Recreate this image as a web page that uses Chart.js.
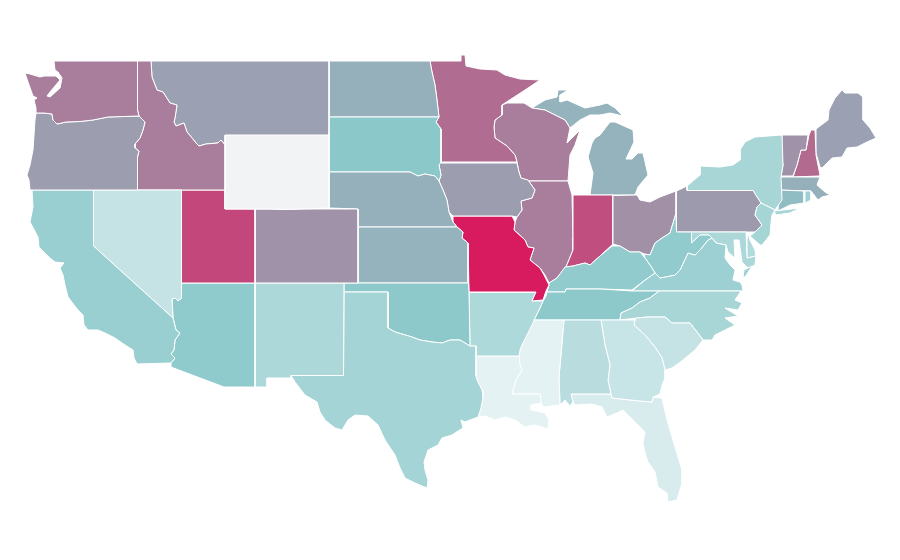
<!DOCTYPE html>
<html>
<head>
<meta charset="utf-8">
<title>US states</title>
<script src="https://cdn.jsdelivr.net/npm/chart.js@4/dist/chart.umd.min.js"></script>
<style>
  html, body { margin: 0; background: #ffffff; }
  #wrap { width: 900px; height: 560px; }
</style>
</head>
<body>
<div id="wrap"><canvas id="map"></canvas></div>
<script>
// state values, read from the shade of each state
const stateNames = ['Washington','Oregon','California','Nevada','Idaho','Montana','Wyoming','Utah','Colorado','Arizona','New Mexico','Texas','Oklahoma','Kansas','Nebraska','South Dakota','North Dakota','Minnesota','Iowa','Missouri','Arkansas','Louisiana','Mississippi','Alabama','Georgia','South Carolina','North Carolina','Tennessee','Kentucky','West Virginia','Virginia','Maryland','Delaware','New Jersey','Pennsylvania','New York','Connecticut','Rhode Island','Massachusetts','Vermont','New Hampshire','Maine','Ohio','Indiana','Illinois','Wisconsin','Michigan','Florida'];
const stateValues = [71,62,43,22,71,61,0,87,65,48,34,38,49,56,57,50,57,76,62,100,33,7,7,28,21,22,36,49,47,47,42,34,32,37,63,36,53,42,57,65,77,61,66,85,71,71,56,13];

// outlines in map units (flat x,y lists)
const WA = [54,61,137.5,61,137.5,110,139,116,108,117,93,120,80,121.5,66,122,57,124,53,120,52,114,44,113,36,113,36,108,34,100,37,98,33,96,28,82,25,73,30,74,40,77,44,76,56,76,60,80,50,92,47,96,50,97,60,88,62,78,58,72,55,70];
const OR = [36,113,44,113,52,114,53,120,57,124,66,122,80,121.5,93,120,108,117,139,116,145,122,143,130,140,138,135,144,135,148,139,151,137.5,157,137.5,190,30,190,29,180,27,175,30,165,33,150,34,135,35,120];
const CA = [32,190,93.5,190,93.5,246,142,290,173,318,176,330,180,333,175,340,174,350,171,354,175,358,171,363,137,364,134,358,133,350,125,345,115,338,105,333,98,330,88,330,84,325,83,315,78,310,68,297,65,285,63,275,60,268,64,263,55,262,50,258,39,247,38,237,30,222,33,207];
const NV = [93.5,190,181.5,190,181.5,298,178,301,175,298,172,299,173,318,142,290,93.5,246];
const ID = [137.5,61,151,61,152,77,157,90,163,92,170,103,177,105,175,118,174,122,176,126,184,123,187,132,192,138,196,143,199,146,206,144,218,143,221,140,225,145,225,190,137.5,190,137.5,157,139,151,135,148,135,144,140,138,143,130,145,122,139,116,137.5,110];
const MT = [151,61,329,61,329,135,225,135,225,145,221,140,218,143,206,144,199,146,196,143,192,138,187,132,184,123,176,126,174,122,175,118,177,105,170,103,163,92,157,90,152,77];
const WY = [225,135,235,134,253,134,263,134.5,285,134,300,134,329,135,329,208,300,209,285,209.5,270,209,225,209];
const UT = [181.5,190,225,190,225,209,255,209,255,283,181.5,283];
const CO = [255,209,270,209,285,209.5,300,209,358,209,358,283,255,283];
const AZ = [181.5,283,255,283,255,387,224,387,171,367,171,363,175,358,171,354,174,350,175,340,180,333,176,330,173,318,172,299,175,298,178,301,181.5,298];
const NM = [255,283,344,283,343.5,375.5,291,375.5,291,378,267,378,267,387,255,387];
const TX = [344,292,388,292,388,328,395,332,402,334,412,337,420,340,432,342,442,343,450,340,460,340,470,346,476,346,476,376,477,380,482,390,483,397,481,408,478,417,470,420,465,422,461,420,463,428,458,431,452,435,442,438,438,445,428,450,424,462,425,470,428,480,427,488,415,483,405,478,400,468,395,455,385,440,378,425,368,416,355,415,348,420,342,430,335,428,325,420,320,412,317,402,305,395,295,382,291,375.5,343.5,375.5];
const OK = [344,283,468.5,283,469,292,470,346,460,340,450,340,442,343,432,342,420,340,412,337,402,334,395,332,388,328,388,292,344,292];
const KS = [358,227,457,227,463,232,462,238,468,243,468,283,358,283];
const NE = [329,172,410,172,418,176,425,174,435,176,439,181,443,190,447,200,449,212,453,222,457,227,358,227,358,209,329,208];
const SD = [329,117,439,117,436,122,441,129,441,162,439,165,441,175,439,181,435,176,425,174,418,176,410,172,329,172];
const ND = [329,61,430,61,432,72,435,85,437,100,439,117,329,117];
const MN = [430,61,461,61,461,55,465,55,466,66,480,69,497,70,505,75,520,79,540,80,525,90,505,103,502,105,502,115,495,120,494,127,495,138,507,146,515,155,517,162,441,162,441,129,436,122,439,117,437,100,435,85,432,72];
const IA = [439,163,517,163,519,172,521,178,528,180,535,190,532,198,521,201,522,210,517,217,512,216,453,216,449,212,447,200,443,190,439,181,441,175,439,165];
const MO = [453,216,512,216,515,222,514,230,525,240,528,247,534,248,530,260,540,268,544,275,548,283,549,285,546,291,543,300,532,301,536,292,469,292,468,243,462,238,463,232,457,227,453,222];
const AR = [469,292.5,536,292.5,532,301,543,301,540,308,535,318,532,325,528,333,522,345,520,350,519,356,476,356,476,346,470,346];
const LA = [476,356,519,356,520,365,522,370,516,380,512,394,540,394,541,403,531,405,531,410,545,413,549,420,548,429,535,425,525,427,515,420,505,417,495,420,485,416,478,417,481,408,483,397,482,390,477,380,476,376];
const MS = [519,356,520,350,522,345,528,333,533,320,564,320,559,377,560,405,543,407,541,403,540,394,512,394,516,380,522,370,520,365];
const AL = [564,320,601,320,605,345,610,365,608,380,611,394,571,394,573,402,570,406,565,400,560,405,559,377];
const GA = [601,320,635,320,634,325,645,335,655,347,662,358,665,370,665,378,662,385,660,394,653,397,652,402,640,401,612,398,611,394,608,380,610,365,605,345];
const SC = [635,320,637,318,648,317,665,317,672,323,690,323,697,332,703,340,695,350,683,360,672,368,665,370,662,358,655,347,645,335,634,325];
const NC = [659,291,741,291,735,300,742,303,738,310,725,308,738,316,725,318,735,325,715,335,712,340,703,340,697,332,690,323,672,323,665,317,648,317,637,318,620,320,621,313,632,308,640,302,650,298];
const TN = [547,292,565,292,566,289,600,289,633,291,659,291,650,298,640,302,632,308,621,313,620,320,533,320,535,318,540,308,543,301,546,296];
const KY = [549,285,549,283,557,278,565,267,573,266,585,263,590,265,600,256,612,246,620,246,630,252,640,252,645,258,650,265,655,273,645,280,632,290,600,289,566,289,565,292,547,292];
const WV = [644,254,650,255,655,243,662,238,670,233,674,220,676,213,676.5,232,691.5,232,691.5,243,700,235,709,235,712,238,708,240,700,250,695,255,688,253,680,270,675,275,660,278,655,273,650,265,645,258];
const VA = [632,291,645,280,655,273,660,278,675,275,680,270,688,253,695,255,700,250,708,240,712,238,716,243,726,245,725,258,730,265,735,270,733,280,740,282,742,285,743,291];
const VA_SHORE = [744,270,752,266,745,277,743,277];
const MD = [691.5,232,746,232,747,258,756,256,755,265,748,268,742,262,739,240,734,240,735,258,728,252,726,245,716,243,712,238,709,235,700,235,691.5,243];
const DE = [748,233,750,240,755,250,756,256,747,258,747,240];
const NJ = [761,203,775,210,772,215,771,223,770,235,762,245,760,245,750,236,755,232,762,225,755,215,757,207];
const PA = [676.5,191,687,186,687,190.5,753,190.5,757,197,761,203,757,207,755,215,762,225,755,232,748,232,676.5,232];
const NY = [687,190.5,753,190.5,757,197,761,203,775,210,782,200,781,177,783,165,782,135,755,137,745,142,740,150,740,160,733,165,720,167,700,166,700,175,687,186];
const NY_ISLAND = [774,211,800,208,790,213,776,215];
const CT = [779,190,804,191,804,203,790,205,778,211];
const RI = [805,191,811,191,811,200,805,203];
const MA = [780,177,820,177,817,185,825,192,830,195,822,197,818,200,811,191,779,190];
const VT = [782,135,808,135,806,150,801,150,797,165,793,176,781,176,783,165,781,150];
const NH = [809,135,811,130,815,130,816,155,820,175,819,176,793,177,797,165,801,150,806,150];
const ME = [816,129,828,120,829,110,835,98,842,90,845,93,858,93,863,97,863,120,870,128,876,138,867,142,857,147,847,148,842,157,832,158,822,168,820,167,816,153];
const OH = [613,195.5,637,195,640,200,650,202,660,197,676,191,676,213,674,220,670,233,662,238,655,243,650,255,644,254,640,252,630,252,620,246,613,244];
const IN = [573,195,613,195,613,244,600,256,590,265,585,263,573,266,566,267,573,250,573,237];
const IL = [529,181,568,181,572,195,573,237,573,250,566,267,557,278,549,283,545,275,540,268,530,260,534,248,528,247,525,240,514,230,515,222,517,217,522,210,521,201,532,198,535,190,528,180];
const WI = [502,105,507,103,524,103,532,108,545,110,565,120,570,128,567,143,580,130,575,145,570,155,568,181,529,181,521,178,519,172,517,162,515,155,507,146,495,138,494,127,495,120,502,115];
const MI_UPPER = [532,108,545,100,557,97,558,90,568,90,560,95,560,102,567,100,585,108,600,105,607,103,615,108,623,116,610,113,600,115,590,115,580,120,570,128,565,120,545,110];
const MI_LOWER = [610,122,615,122,633,130,634,142,626,159,632,159,638,153,643,153,648,175,638,187,635,195,590,195,593,173,588,157,592,143,595,138,600,135];
const FL = [571,394,611,394,612,398,640,401,652,402,653,397,662,398,667,420,675,447,682,470,682,483,677,500,668,502,667,493,658,487,655,472,648,462,645,453,643,443,645,432,635,422,623,410,617,413,607,417,602,407,592,404,575,405,573,402];

const outlines = [[WA],[OR],[CA],[NV],[ID],[MT],[WY],[UT],[CO],[AZ],[NM],[TX],[OK],[KS],[NE],[SD],[ND],[MN],[IA],[MO],[AR],[LA],[MS],[AL],[GA],[SC],[NC],[TN],[KY],[WV],[VA,VA_SHORE],[MD],[DE],[NJ],[PA],[NY,NY_ISLAND],[CT],[RI],[MA],[VT],[NH],[ME],[OH],[IN],[IL],[WI],[MI_UPPER,MI_LOWER],[FL]];

// colour ramp: pale grey -> teal -> mauve -> crimson
const rampStops = [0, 7, 50, 71, 100];
const rampColors = [[242,243,245],[228,242,243],[139,200,202],[169,126,156],[216,27,95]];

function valueColor(v) {
    let i = 0;
    while (i < rampStops.length - 2 && v > rampStops[i + 1]) i++;
    const t = (v - rampStops[i]) / (rampStops[i + 1] - rampStops[i]);
    const rgb = rampColors[i].map((c, k) => Math.round(c + (rampColors[i + 1][k] - c) * t));
    return `rgb(${rgb.join(',')})`;
}

function toPoints(flat) {
    const pts = [];
    for (let i = 0; i < flat.length; i += 2) {
        pts.push({ x: flat[i], y: flat[i + 1] });
    }
    pts.push({ x: flat[0], y: flat[1] }); // close the ring
    return pts;
}

const datasets = [];
stateNames.forEach((name, i) => {
    outlines[i].forEach(part => {
        datasets.push({
            label: name,
            data: toPoints(part),
            showLine: true,
            fill: 'shape',
            tension: 0,
            pointRadius: 0,
            backgroundColor: valueColor(stateValues[i]),
            borderColor: '#ffffff',
            borderWidth: 1
        });
    });
});

const canvas = document.getElementById('map');
canvas.width = 900;
canvas.height = 560;

new Chart(canvas, {
    type: 'scatter',
    data: { datasets },
    options: {
        responsive: false,
        animation: false,
        layout: { padding: 0 },
        plugins: { legend: { display: false }, tooltip: { enabled: false } },
        scales: {
            x: { type: 'linear', display: false, min: 0, max: 900 },
            y: { type: 'linear', display: false, min: 0, max: 560, reverse: true }
        }
    }
});
</script>
</body>
</html>
